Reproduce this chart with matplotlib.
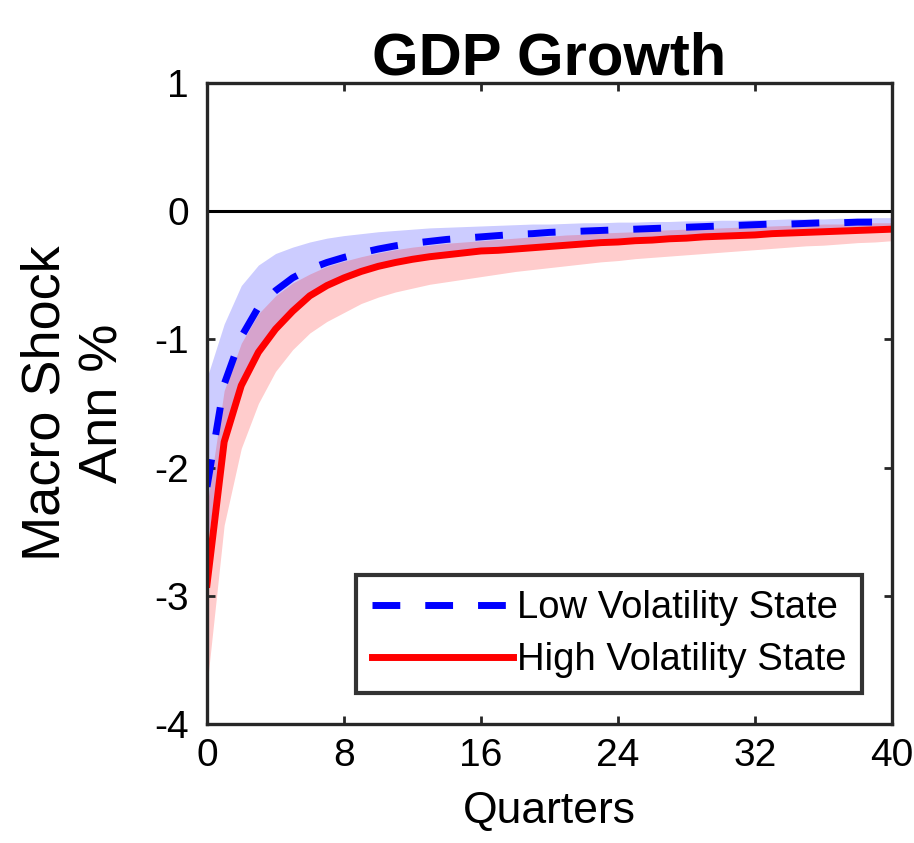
import numpy as np
import matplotlib
matplotlib.use("Agg")
import matplotlib.pyplot as plt

plt.rcParams["font.family"] = ["Liberation Sans", "DejaVu Sans"]
plt.rcParams["axes.unicode_minus"] = False

quarters = np.arange(0, 41)

# impulse responses (one value per quarter)
low_vol = [-2.15, -1.35, -0.98, -0.75, -0.62, -0.52, -0.45, -0.40, -0.36, -0.325,
           -0.295, -0.27, -0.25, -0.235, -0.22, -0.21, -0.20, -0.19, -0.18, -0.175,
           -0.165, -0.16, -0.155, -0.15, -0.145, -0.14, -0.135, -0.13, -0.125, -0.12,
           -0.115, -0.11, -0.105, -0.10, -0.10, -0.095, -0.09, -0.09, -0.085, -0.085,
           -0.08]
low_hi = [-1.30, -0.88, -0.58, -0.42, -0.33, -0.28, -0.24, -0.21, -0.19, -0.175,
          -0.16, -0.15, -0.14, -0.13, -0.125, -0.12, -0.115, -0.11, -0.105, -0.10,
          -0.10, -0.095, -0.09, -0.09, -0.085, -0.085, -0.08, -0.08, -0.075, -0.075,
          -0.07, -0.07, -0.065, -0.065, -0.06, -0.06, -0.06, -0.055, -0.055, -0.05,
          -0.05]
low_lo = [-2.60, -1.75, -1.33, -1.06, -0.88, -0.75, -0.64, -0.56, -0.50, -0.45,
          -0.41, -0.38, -0.355, -0.335, -0.32, -0.305, -0.29, -0.28, -0.27, -0.26,
          -0.25, -0.24, -0.23, -0.22, -0.215, -0.205, -0.20, -0.19, -0.185, -0.18,
          -0.17, -0.165, -0.16, -0.155, -0.15, -0.145, -0.14, -0.135, -0.13, -0.125,
          -0.12]

high_vol = [-2.91, -1.80, -1.36, -1.10, -0.92, -0.78, -0.66, -0.58, -0.52, -0.47,
            -0.43, -0.40, -0.375, -0.355, -0.34, -0.325, -0.31, -0.305, -0.295, -0.285,
            -0.275, -0.265, -0.255, -0.245, -0.24, -0.23, -0.225, -0.215, -0.21, -0.20,
            -0.195, -0.19, -0.185, -0.175, -0.17, -0.165, -0.16, -0.155, -0.15, -0.145,
            -0.14]
high_hi = [-2.30, -1.40, -1.03, -0.80, -0.66, -0.56, -0.49, -0.43, -0.39, -0.355,
           -0.325, -0.30, -0.28, -0.265, -0.25, -0.24, -0.23, -0.22, -0.21, -0.20,
           -0.195, -0.185, -0.18, -0.17, -0.165, -0.16, -0.15, -0.145, -0.14, -0.135,
           -0.13, -0.125, -0.12, -0.115, -0.11, -0.105, -0.10, -0.10, -0.095, -0.09,
           -0.09]
high_lo = [-3.70, -2.45, -1.85, -1.50, -1.25, -1.08, -0.95, -0.86, -0.79, -0.72,
           -0.67, -0.63, -0.60, -0.57, -0.55, -0.53, -0.51, -0.49, -0.47, -0.455,
           -0.44, -0.425, -0.41, -0.395, -0.385, -0.37, -0.36, -0.35, -0.34, -0.33,
           -0.32, -0.31, -0.30, -0.29, -0.28, -0.27, -0.265, -0.255, -0.245, -0.24,
           -0.23]

xticks = [0, 8, 16, 24, 32, 40]
yticks = [-4, -3, -2, -1, 0, 1]

fig = plt.figure(figsize=(9.14, 8.43), dpi=100)
ax = fig.add_axes([0.2265, 0.1412, 0.7494, 0.7603])

ax.fill_between(quarters, low_lo, low_hi, color="b", alpha=0.2, lw=0)
ax.fill_between(quarters, high_lo, high_hi, color="r", alpha=0.2, lw=0)
ax.axhline(0, color="k", lw=2.2)
ax.plot(quarters, low_vol, color="b", lw=5, dashes=(4, 3.6),
        label="Low Volatility State")
ax.plot(quarters, high_vol, color="r", lw=5, label="High Volatility State")

ax.set_xlim(0, 40)
ax.set_ylim(-4, 1)
ax.set_xticks(xticks)
ax.set_yticks(yticks)
ax.tick_params(direction="in", length=6, width=2, labelsize=28,
               top=True, right=True, color="0.15")
ax.tick_params(axis="x", pad=10)
ax.tick_params(axis="y", pad=13)
for s in ax.spines.values():
    s.set_linewidth(2.4)
    s.set_color("0.15")

ax.set_title("GDP Growth", fontsize=43, fontweight="bold", pad=6)
ax.set_xlabel("Quarters", fontsize=32, va="center")
ax.xaxis.set_label_coords(0.5, -0.137)
ax.set_ylabel("Macro Shock\nAnn %", fontsize=39, va="center", ha="center",
              rotation_mode="default", linespacing=1.2)
ax.yaxis.set_label_coords(-0.194, 0.5)

leg = ax.legend(loc="upper left", bbox_to_anchor=(0.218, 0.233), fontsize=27.5,
                handlelength=3.7, handletextpad=0.1, labelspacing=0.42,
                borderpad=0.4, borderaxespad=0, fancybox=False, framealpha=1)
leg.get_frame().set_edgecolor("0.2")
leg.get_frame().set_linewidth(3)

fig.savefig("out.png", dpi=100)
